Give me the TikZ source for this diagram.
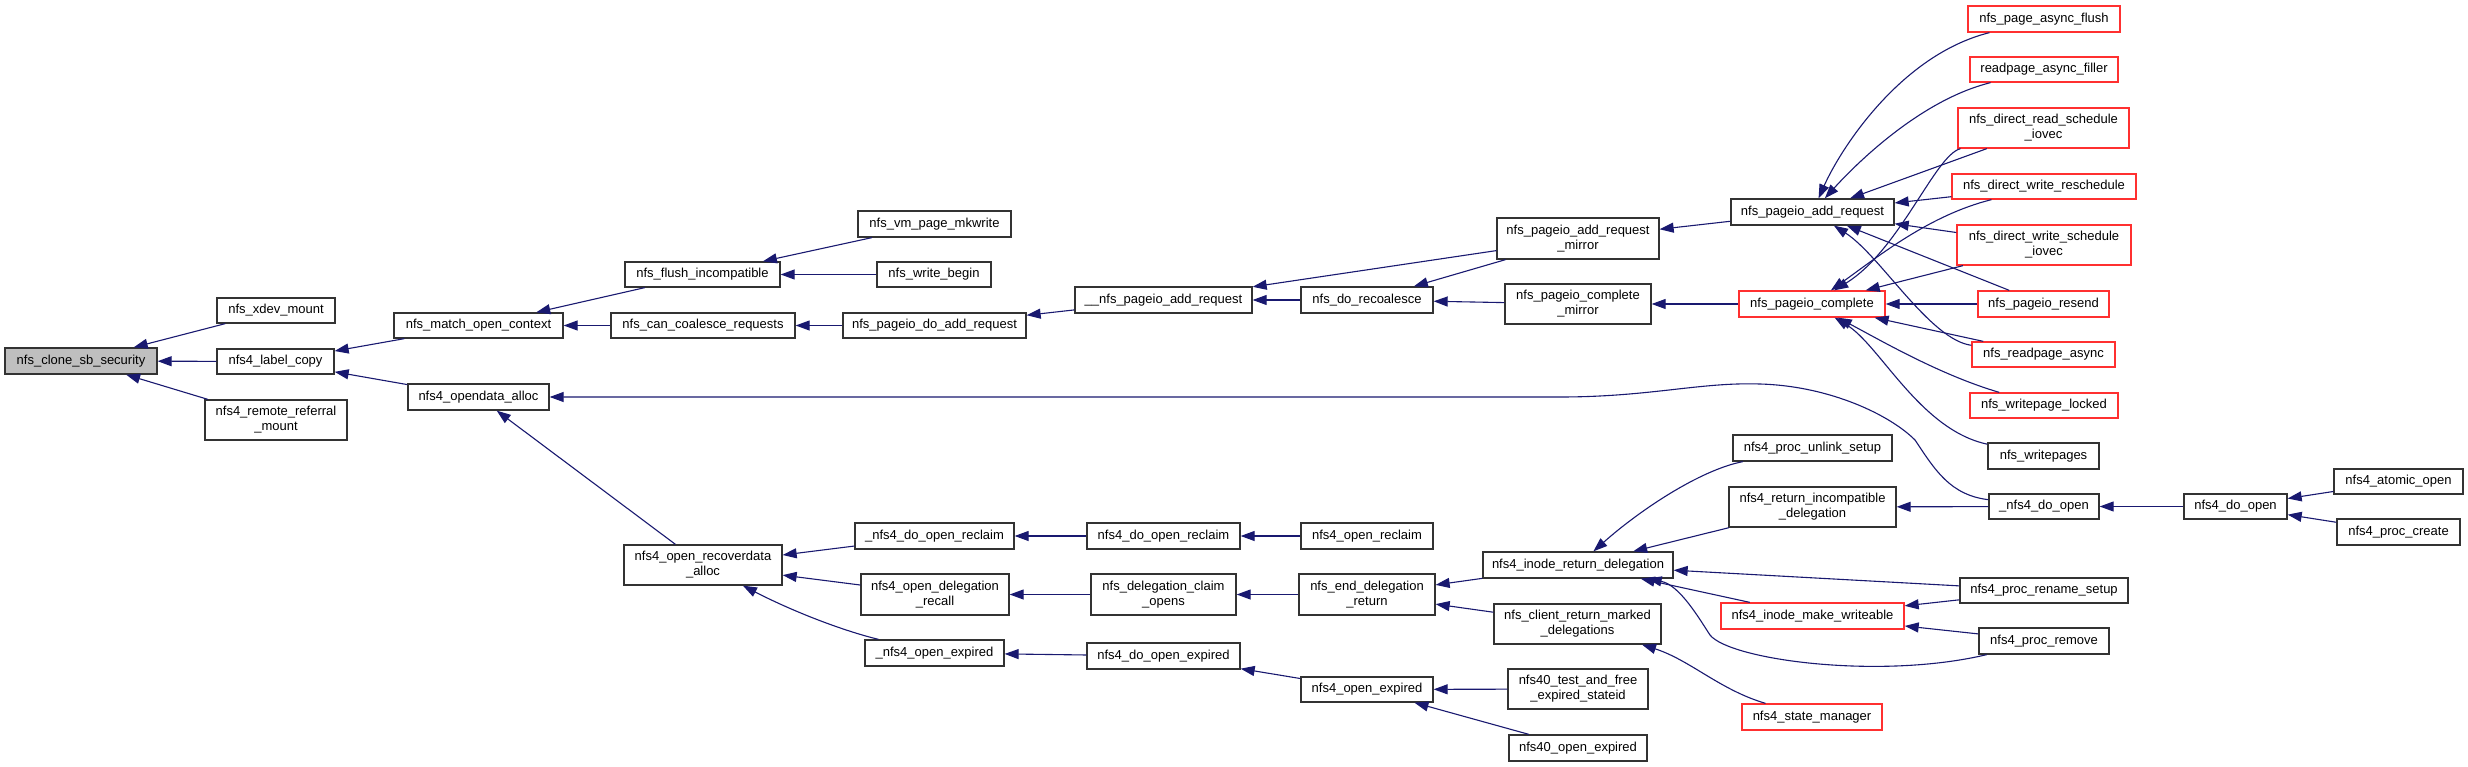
\documentclass[tikz,border=0pt]{standalone}
\usepackage{fontspec}
\setmainfont{Liberation Sans}
\usetikzlibrary{arrows.meta}
\definecolor{edgecol}{HTML}{191970}
\definecolor{boxcol}{HTML}{333333}
\definecolor{redcol}{HTML}{FF3030}
\definecolor{rootfill}{HTML}{BFBFBF}
\newcommand\fnode[6]{\node[#1,minimum width=#4pt,minimum height=#5pt] (#2) at (#3) {#6};}
\begin{document}
\begin{tikzpicture}[x=1pt,y=-1pt,
  fn/.style={draw=boxcol,line width=1.3pt,fill=white,inner sep=0pt,align=center,font=\fontsize{13}{15}\selectfont},
  rfn/.style={fn,draw=redcol},
  edge/.style={draw=edgecol,line width=1.1pt,{Triangle[length=14pt,width=10pt]}-}]
\useasboundingbox[fill=white] (0,0) rectangle (2468,767);
% column 0-1
\fnode{fn,fill=rootfill}{clone}{81,361}{152}{26}{nfs\_clone\_sb\_security}
\fnode{fn}{xdev}{276,310.5}{118}{25}{nfs\_xdev\_mount}
\fnode{fn}{labelcopy}{275.5,361.5}{117}{25}{nfs4\_label\_copy}
\fnode{fn}{remote}{276,420}{142}{40}{nfs4\_remote\_referral\\\_mount}
% column 2
\fnode{fn}{match}{478.5,325.5}{169}{25}{nfs\_match\_open\_context}
\fnode{fn}{opendata}{478.5,397}{141}{26}{nfs4\_opendata\_alloc}
% column 3
\fnode{fn}{flush}{702.5,274.5}{155}{25}{nfs\_flush\_incompatible}
\fnode{fn}{cancoal}{703,325.5}{184}{25}{nfs\_can\_coalesce\_requests}
\fnode{fn}{recov}{703,565}{158}{40}{nfs4\_open\_recoverdata\\\_alloc}
% column 4
\fnode{fn}{vmpage}{934.5,224}{153}{26}{nfs\_vm\_page\_mkwrite}
\fnode{fn}{writebegin}{934,274.5}{114}{25}{nfs\_write\_begin}
\fnode{fn}{doadd}{934.5,325.5}{183}{25}{nfs\_pageio\_do\_add\_request}
\fnode{fn}{undoreclaim}{934.5,536}{159}{26}{\_nfs4\_do\_open\_reclaim}
\fnode{fn}{delrecall}{935,594.5}{148}{41}{nfs4\_open\_delegation\\\_recall}
\fnode{fn}{unopenexp}{934.5,653}{139}{26}{\_nfs4\_open\_expired}
% column 5
\fnode{fn}{nfsadd}{1163.5,300}{177}{26}{\_\_nfs\_pageio\_add\_request}
\fnode{fn}{doreclaim}{1163.5,536}{153}{26}{nfs4\_do\_open\_reclaim}
\fnode{fn}{claimopens}{1163.5,594.5}{145}{41}{nfs\_delegation\_claim\\\_opens}
\fnode{fn}{doopenexp}{1163.5,656}{153}{26}{nfs4\_do\_open\_expired}
% column 6
\fnode{fn}{recoal}{1367,300}{132}{26}{nfs\_do\_recoalesce}
\fnode{fn}{openreclaim}{1367,536}{132}{26}{nfs4\_open\_reclaim}
\fnode{fn}{enddeleg}{1367,594.5}{136}{41}{nfs\_end\_delegation\\\_return}
\fnode{fn}{openexp}{1367,689.5}{132}{25}{nfs4\_open\_expired}
% column 7
\fnode{fn}{addmirror}{1578,238.5}{162}{41}{nfs\_pageio\_add\_request\\\_mirror}
\fnode{fn}{compmirror}{1578,304}{146}{40}{nfs\_pageio\_complete\\\_mirror}
\fnode{fn}{ird}{1578,565}{190}{26}{nfs4\_inode\_return\_delegation}
\fnode{fn}{crm}{1577.5,624}{167}{40}{nfs\_client\_return\_marked\\\_delegations}
\fnode{fn}{test40}{1578,689}{140}{40}{nfs40\_test\_and\_free\\\_expired\_stateid}
\fnode{fn}{open40}{1578,748}{138}{26}{nfs40\_open\_expired}
% column 8
\fnode{fn}{pagadd}{1812.5,212}{163}{26}{nfs\_pageio\_add\_request}
\fnode{rfn}{pcomplete}{1812,304}{146}{26}{nfs\_pageio\_complete}
\fnode{fn}{unlink}{1812.5,448}{159}{26}{nfs4\_proc\_unlink\_setup}
\fnode{fn}{retincompat}{1812.5,507}{167}{40}{nfs4\_return\_incompatible\\\_delegation}
\fnode{rfn}{makewr}{1812.5,616}{183}{26}{nfs4\_inode\_make\_writeable}
\fnode{rfn}{statemgr}{1812,717}{140}{26}{nfs4\_state\_manager}
% column 9
\fnode{rfn}{asyncflush}{2044,19}{152}{26}{nfs\_page\_async\_flush}
\fnode{rfn}{filler}{2044,69.5}{148}{25}{readpage\_async\_filler}
\fnode{rfn}{dris}{2043.5,128}{171}{40}{nfs\_direct\_read\_schedule\\\_iovec}
\fnode{rfn}{dwr}{2044,186.5}{184}{25}{nfs\_direct\_write\_reschedule}
\fnode{rfn}{dwsi}{2044,245}{174}{40}{nfs\_direct\_write\_schedule\\\_iovec}
\fnode{rfn}{resend}{2043.5,304}{131}{26}{nfs\_pageio\_resend}
\fnode{rfn}{readasync}{2043.5,354.5}{143}{25}{nfs\_readpage\_async}
\fnode{rfn}{wplocked}{2044,405.5}{148}{25}{nfs\_writepage\_locked}
\fnode{fn}{writepages}{2043.5,456}{111}{26}{nfs\_writepages}
\fnode{fn}{udoopen}{2044,506.5}{110}{25}{\_nfs4\_do\_open}
\fnode{fn}{renamesetup}{2044,590.5}{168}{25}{nfs4\_proc\_rename\_setup}
\fnode{fn}{premove}{2044,641}{130}{26}{nfs4\_proc\_remove}
% column 10-11
\fnode{fn}{doopen}{2235.5,506.5}{103}{25}{nfs4\_do\_open}
\fnode{fn}{atomic}{2398.5,481.5}{129}{25}{nfs4\_atomic\_open}
\fnode{fn}{pcreate}{2398.5,532}{123}{26}{nfs4\_proc\_create}
% edges
\draw[edge] (clone) -- (xdev);
\draw[edge] (clone) -- (labelcopy);
\draw[edge] (clone) -- (remote);
\draw[edge] (labelcopy) -- (match);
\draw[edge] (labelcopy) -- (opendata);
\draw[edge] (match) -- (flush);
\draw[edge] (match) -- (cancoal);
\draw[edge] (flush) -- (vmpage);
\draw[edge] (flush) -- (writebegin);
\draw[edge] (cancoal) -- (doadd);
\draw[edge] (doadd) -- (nfsadd);
\draw[edge] (nfsadd) -- (recoal);
\draw[edge] (nfsadd) -- (addmirror);
\draw[edge] (recoal) -- (addmirror);
\draw[edge] (recoal) -- (compmirror);
\draw[edge] (addmirror) -- (pagadd);
\draw[edge] (compmirror) -- (pcomplete);
\draw[edge] (pagadd) .. controls (1840,150) and (1900,55) .. (asyncflush);
\draw[edge] (pagadd) .. controls (1855,165) and (1920,100) .. (filler);
\draw[edge] (pagadd) -- (dris);
\draw[edge] (pagadd) -- (dwr);
\draw[edge] (pagadd) -- (dwsi);
\draw[edge] (pagadd) -- (resend);
\draw[edge] (pagadd) .. controls (1880,255) and (1930,340) .. (readasync);
\draw[edge] (pcomplete) .. controls (1900,250) and (1935,155) .. (dris);
\draw[edge] (pcomplete) .. controls (1880,255) and (1930,215) .. (dwr);
\draw[edge] (pcomplete) -- (dwsi);
\draw[edge] (pcomplete) -- (resend);
\draw[edge] (pcomplete) -- (readasync);
\draw[edge] (pcomplete) .. controls (1880,340) and (1940,375) .. (wplocked);
\draw[edge] (pcomplete) .. controls (1880,345) and (1920,430) .. (writepages);
\draw[edge] (opendata) -- (1560,397) .. controls (1650,397) and (1700,382) .. (1760,384)
  .. controls (1830,386) and (1890,415) .. (1915,440) .. controls (1935,470) and (1950,495) .. (udoopen);
\draw[edge] (opendata) -- (recov);
\draw[edge] (recov) -- (undoreclaim);
\draw[edge] (recov) -- (delrecall);
\draw[edge] (recov) .. controls (790,610) and (840,630) .. (unopenexp);
\draw[edge] (undoreclaim) -- (doreclaim);
\draw[edge] (delrecall) -- (claimopens);
\draw[edge] (unopenexp) -- (doopenexp);
\draw[edge] (doreclaim) -- (openreclaim);
\draw[edge] (claimopens) -- (enddeleg);
\draw[edge] (doopenexp) -- (openexp);
\draw[edge] (enddeleg) -- (ird);
\draw[edge] (enddeleg) -- (crm);
\draw[edge] (openexp) -- (test40);
\draw[edge] (openexp) -- (open40);
\draw[edge] (ird) .. controls (1640,510) and (1700,470) .. (unlink);
\draw[edge] (ird) -- (retincompat);
\draw[edge] (ird) -- (renamesetup);
\draw[edge] (ird) -- (makewr);
\draw[edge] (ird) .. controls (1680,585) and (1700,620) .. (1710,635) .. controls (1730,660) and (1880,680) .. (premove);
\draw[edge] (crm) .. controls (1690,660) and (1720,690) .. (statemgr);
\draw[edge] (retincompat) -- (udoopen);
\draw[edge] (makewr) -- (renamesetup);
\draw[edge] (makewr) -- (premove);
\draw[edge] (udoopen) -- (doopen);
\draw[edge] (doopen) -- (atomic);
\draw[edge] (doopen) -- (pcreate);
\end{tikzpicture}
\end{document}
